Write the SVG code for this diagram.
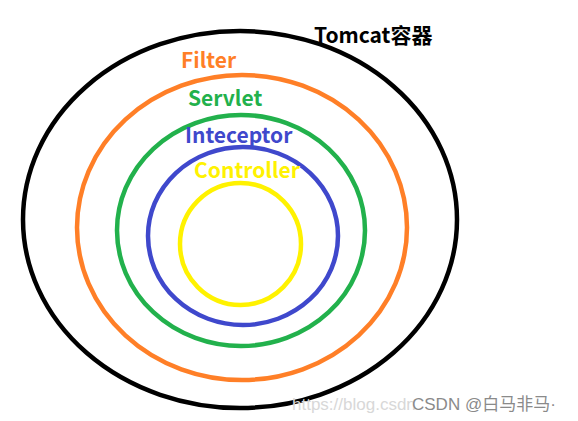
<svg xmlns="http://www.w3.org/2000/svg" width="578" height="421" viewBox="0 0 578 421">
  <style>
    .ring { fill: none; stroke-width: 4.5; }
    .lbl { font-family: "Noto Sans CJK SC", "Noto Sans", "Liberation Sans", sans-serif; font-weight: bold; font-size: 21px; }
    .wm { font-family: "Liberation Sans", "Noto Sans CJK SC", sans-serif; font-size: 17px; }
  </style>
  <rect width="578" height="421" fill="#ffffff"/>
  <g id="tomcat">
    <ellipse class="ring" cx="240" cy="219.5" rx="217" ry="188.5" stroke="#000000" stroke-width="5"/>
    <text class="lbl" x="314" y="43" fill="#000000" font-size="22.5">Tomcat容器</text>
  </g>
  <g id="filter">
    <ellipse class="ring" cx="242" cy="227.5" rx="165" ry="152.5" stroke="#FF7F27"/>
    <text class="lbl" x="181" y="68" fill="#FF7F27" font-size="20">Filter</text>
  </g>
  <g id="servlet">
    <ellipse class="ring" cx="241" cy="230.5" rx="124" ry="115.5" stroke="#22B14C"/>
    <text class="lbl" x="188" y="106" fill="#22B14C">Servlet</text>
  </g>
  <g id="inteceptor">
    <ellipse class="ring" cx="243" cy="236" rx="95" ry="89" stroke="#3F48CC"/>
    <text class="lbl" x="185" y="143" fill="#3F48CC">Inteceptor</text>
  </g>
  <g id="controller">
    <ellipse class="ring" cx="240.5" cy="244" rx="60.5" ry="61" stroke="#FFF200"/>
    <text class="lbl" x="194" y="178" fill="#FFF200">Controller</text>
  </g>
  <g id="connectors"/>
  <g id="watermark">
    <text class="wm" x="292" y="410" fill="#d8d8d8" font-size="16">https://blog.csdn</text>
    <text class="wm" x="412" y="410" fill="#8a8a8a" stroke="#ffffff" stroke-width="0.6" paint-order="stroke" font-size="18.5">CSDN @白马非马·</text>
  </g>
</svg>
